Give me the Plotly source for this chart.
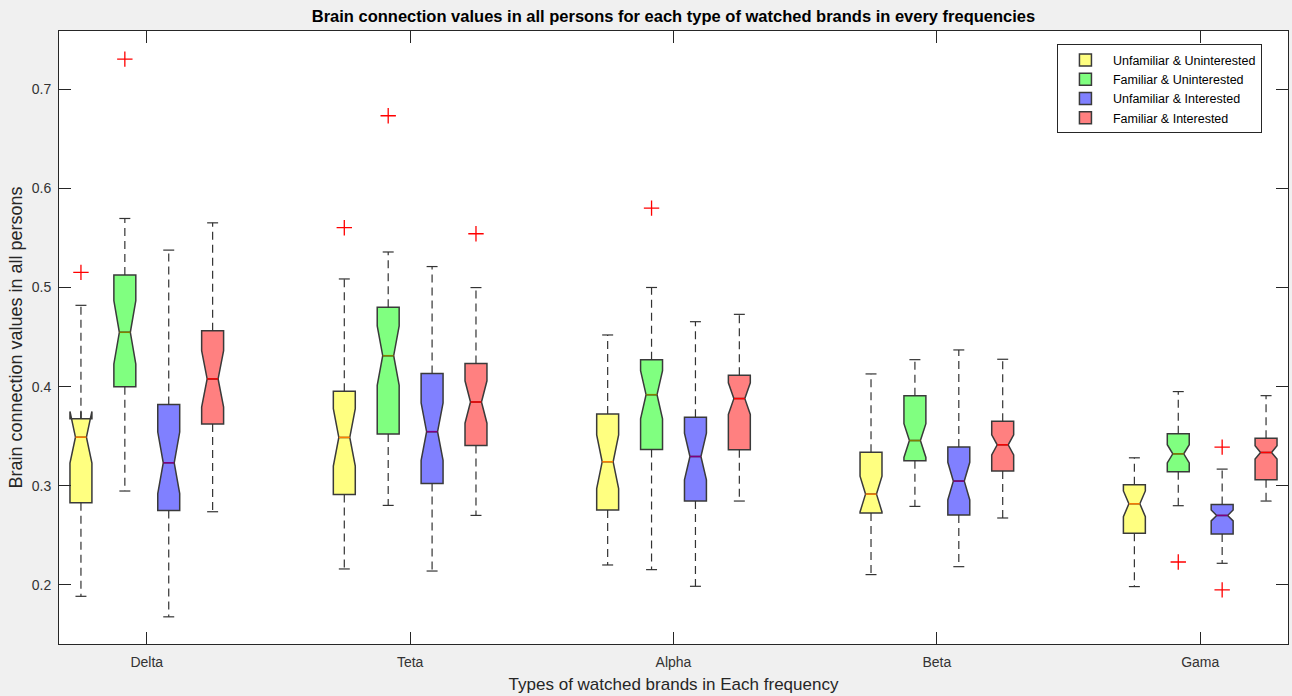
import plotly.graph_objects as go

# ---------------- data ----------------
groups = ["Delta", "Teta", "Alpha", "Beta", "Gama"]
series_names = ["Unfamiliar & Uninterested", "Familiar & Uninterested",
                "Unfamiliar & Interested", "Familiar & Interested"]

# Unfamiliar & Uninterested
uu_q1 = [0.2829, 0.2913, 0.2755, 0.2725, 0.2520]
uu_med = [0.3490, 0.3488, 0.3242, 0.2916, 0.2818]
uu_q3 = [0.3676, 0.3953, 0.3725, 0.3339, 0.3010]
uu_lw = [0.1885, 0.2161, 0.2201, 0.2104, 0.1983]
uu_uw = [0.4820, 0.5086, 0.4521, 0.4128, 0.3282]
uu_notch = [0.0260, 0.0290, 0.0270, 0.0180, 0.0130]
uu_out = [[0.5152], [0.5603], [], [], []]

# Familiar & Uninterested
fu_q1 = [0.4000, 0.3521, 0.3366, 0.3252, 0.3141]
fu_med = [0.4548, 0.4312, 0.3919, 0.3456, 0.3322]
fu_q3 = [0.5125, 0.4801, 0.4272, 0.3909, 0.3524]
fu_lw = [0.2947, 0.2802, 0.2154, 0.2792, 0.2799]
fu_uw = [0.5696, 0.5358, 0.5000, 0.4272, 0.3950]
fu_notch = [0.0320, 0.0300, 0.0243, 0.0170, 0.0092]
fu_out = [[0.7303], [0.6732], [0.5800], [], [0.2231]]

# Unfamiliar & Interested
ui_q1 = [0.2751, 0.3024, 0.2846, 0.2705, 0.2513]
ui_med = [0.3232, 0.3546, 0.3295, 0.3047, 0.2701]
ui_q3 = [0.3819, 0.4132, 0.3692, 0.3390, 0.2812]
ui_lw = [0.1678, 0.2140, 0.1986, 0.2184, 0.2218]
ui_uw = [0.5377, 0.5211, 0.4655, 0.4370, 0.3168]
ui_notch = [0.0310, 0.0290, 0.0236, 0.0190, 0.0055]
ui_out = [[], [], [], [], [0.3390, 0.1950]]

# Familiar & Interested
fi_q1 = [0.3624, 0.3406, 0.3363, 0.3148, 0.3060]
fi_med = [0.4078, 0.3845, 0.3879, 0.3413, 0.3336]
fi_q3 = [0.4564, 0.4233, 0.4115, 0.3652, 0.3480]
fi_lw = [0.2738, 0.2701, 0.2846, 0.2675, 0.2846]
fi_uw = [0.5652, 0.4999, 0.4729, 0.4276, 0.3909]
fi_notch = [0.0285, 0.0214, 0.0160, 0.0101, 0.0067]
fi_out = [[], [0.5542], [], [], []]

# ---------------- styles ----------------
fills = ["#FFFF80", "#80FF80", "#8080FF", "#FF8080"]
median_colors = ["#FF8000", "#808000", "#800080", "#FF0000"]
edge = "#3a3a3a"
FONT = "Liberation Sans, Arial, Helvetica, sans-serif"
TXT = "#262626"

stats = [
    (uu_q1, uu_med, uu_q3, uu_lw, uu_uw, uu_notch, uu_out),
    (fu_q1, fu_med, fu_q3, fu_lw, fu_uw, fu_notch, fu_out),
    (ui_q1, ui_med, ui_q3, ui_lw, ui_uw, ui_notch, ui_out),
    (fi_q1, fi_med, fi_q3, fi_lw, fi_uw, fi_notch, fi_out),
]

GROUP_STRIDE = 6
BOX_W = 0.5
CAP_HALF = 0.125
MED_HALF = 0.125


def pos(g, s):
    return 1 + GROUP_STRIDE * g + s


fig = go.Figure()

# whiskers (dashed) and caps
for s, (q1, med, q3, lw, uw, nt, out) in enumerate(stats):
    wx, wy, cx, cy = [], [], [], []
    for g in range(len(groups)):
        p = pos(g, s)
        wx += [p, p, None, p, p, None]
        wy += [q3[g], uw[g], None, q1[g], lw[g], None]
        cx += [p - CAP_HALF, p + CAP_HALF, None, p - CAP_HALF, p + CAP_HALF, None]
        cy += [uw[g], uw[g], None, lw[g], lw[g], None]
    fig.add_trace(go.Scatter(x=wx, y=wy, mode="lines", showlegend=False, hoverinfo="skip",
                             line=dict(color="#333333", width=1.2, dash="8px,5px")))
    fig.add_trace(go.Scatter(x=cx, y=cy, mode="lines", showlegend=False, hoverinfo="skip",
                             line=dict(color="#333333", width=1.2)))

# notched boxes
for s, (q1, med, q3, lw, uw, nt, out) in enumerate(stats):
    xs = [pos(g, s) for g in range(len(groups))]
    fig.add_trace(go.Box(
        name=series_names[s], x=xs, q1=q1, median=med, q3=q3,
        lowerfence=q1, upperfence=q3, notchspan=nt, notched=True, notchwidth=0.25,
        width=BOX_W, whiskerwidth=0, boxpoints=False,
        fillcolor=fills[s], line=dict(color=edge, width=1.5),
        showlegend=True,
    ))

# coloured median lines
for s, (q1, med, q3, lw, uw, nt, out) in enumerate(stats):
    mx, my = [], []
    for g in range(len(groups)):
        p = pos(g, s)
        mx += [p - MED_HALF, p + MED_HALF, None]
        my += [med[g], med[g], None]
    fig.add_trace(go.Scatter(x=mx, y=my, mode="lines", showlegend=False, hoverinfo="skip",
                             line=dict(color=median_colors[s], width=1.5)))

# outliers
for s, (q1, med, q3, lw, uw, nt, out) in enumerate(stats):
    ox, oy = [], []
    for g in range(len(groups)):
        for v in out[g]:
            ox.append(pos(g, s))
            oy.append(v)
    if ox:
        fig.add_trace(go.Scatter(x=ox, y=oy, mode="markers", showlegend=False,
                                 marker=dict(symbol="cross-thin", size=11,
                                             line=dict(color="#FF0000", width=1.3))))

centers = [pos(g, 1.5) for g in range(len(groups))]

fig.update_layout(
    width=1292, height=696,
    margin=dict(l=59, r=4, t=30.5, b=51.5, autoexpand=False),
    paper_bgcolor="#F0F0F0", plot_bgcolor="#FFFFFF",
    font=dict(family=FONT, color=TXT, size=14),
    boxmode="overlay",
    title=dict(text="<b>Brain connection values in all persons for each type of watched brands in every frequencies</b>",
               x=0.5, xref="paper", xanchor="center", y=1 - 16.5 / 696, yref="container",
               yanchor="middle", font=dict(size=16.5, color="#000000")),
    xaxis=dict(range=[0.5, 28.5], tickvals=centers, ticktext=groups,
               showgrid=False, zeroline=False, showline=True, linecolor=TXT, linewidth=1,
               mirror="ticks", ticks="inside", ticklen=12, tickcolor=TXT, tickwidth=1,
               ticklabelstandoff=5,
               tickfont=dict(size=14, color="#333333"),
               title=dict(text="Types of watched brands in Each frequency",
                          font=dict(size=17, color="#262626"), standoff=9)),
    yaxis=dict(range=[0.1404, 0.7587], tickvals=[0.2, 0.3, 0.4, 0.5, 0.6, 0.7],
               ticktext=["0.2", "0.3", "0.4", "0.5", "0.6", "0.7"],
               showgrid=False, zeroline=False, showline=True, linecolor=TXT, linewidth=1,
               mirror="ticks", ticks="inside", ticklen=12, tickcolor=TXT, tickwidth=1,
               ticklabelstandoff=4,
               tickfont=dict(size=14, color="#333333"),
               title=dict(text="Brain connection values in all persons",
                          font=dict(size=18, color="#262626"), standoff=4)),
    legend=dict(x=0.812, y=0.978, xanchor="left", yanchor="top",
                bgcolor="#FFFFFF", bordercolor="#262626", borderwidth=1,
                font=dict(size=12.5, color="#000000"), traceorder="normal",
                itemwidth=45, tracegroupgap=0),
)

fig.write_html("out.html")
